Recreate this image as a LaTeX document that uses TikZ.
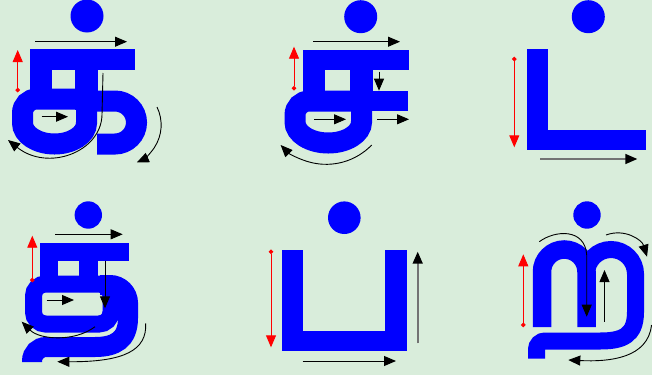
\documentclass[tikz,border=0pt]{standalone}
\usepackage{xcolor}
\usepackage{tikz}
\usetikzlibrary{arrows.meta}

\definecolor{paper}{RGB}{217,237,219}
\definecolor{ink}{RGB}{0,0,255}

\tikzset{
  glyphpen/.style={draw=ink,line width=#1},
  glyphpen/.default=21pt,
  strokeorder/.style={draw=black,line width=0.9pt,-{Triangle[length=12pt,width=10pt]}},
  fadedorder/.style={draw=black!55,line width=1.6pt,-{Triangle[length=12pt,width=10pt,black]}},
  startorder/.style={draw=red,line width=0.9pt,{Circle[length=4.5pt]}-{Triangle[length=12pt,width=10pt]}}
}

\begin{document}
\begin{tikzpicture}[x=1pt,y=-1pt]
\fill[paper] (0,0) rectangle (652,375);
\useasboundingbox (0,0) rectangle (652,375);

% ka with pulli
\fill[ink] (87,16) circle[radius=16.5];
\fill[ink] (30,49) rectangle (135,70);
\fill[ink] (30,49) rectangle (52,100);
\fill[ink] (75,49) rectangle (98,110);
\draw[glyphpen] (86.5,99) -- (36.5,99) arc[start angle=-90,end angle=-180,radius=14] -- (22.5,123)
  arc[start angle=180,end angle=0,x radius=32,y radius=21] -- cycle;
\draw[glyphpen] (97,101) -- (115,101) arc[start angle=-90,end angle=90,radius=21.5] -- (97,144);

\draw[startorder] (17.7,92.3) -- (17.7,50);
\draw[strokeorder] (35,41.7) -- (127,41.7);
\draw[strokeorder] (41.7,116.7) -- (68,116.7);
\draw[strokeorder] (103,73) -- (102,115) .. controls (101,152) and (48,172) .. (8,140);
\draw[strokeorder] (157,107) arc[start angle=-26,end angle=66,radius=41];

% ca with pulli
\fill[ink] (360.7,16.7) circle[radius=16.5];
\fill[ink] (303,50) rectangle (409,70);
\fill[ink] (303,50) rectangle (325,101);
\fill[ink] (350,50) rectangle (373,111);
\fill[ink] (360,91) rectangle (408,111);
\draw[glyphpen] (361.5,101) -- (309,101) arc[start angle=-90,end angle=-180,radius=14] -- (295,122)
  arc[start angle=180,end angle=0,x radius=33.25,y radius=21] -- cycle;

\draw[startorder] (294,90.5) -- (294,46.7);
\draw[strokeorder] (313.3,41.7) -- (400,41.7);
\draw[strokeorder] (379,71.7) -- (379,90.7);
\draw[strokeorder] (314.3,119.3) -- (346,119.3);
\draw[strokeorder] (377.3,119.3) -- (409,119.3);
\draw[strokeorder] (371.7,145) arc[start angle=44,end angle=136,radius=63.3];

% tta with pulli
\fill[ink] (588.3,16.7) circle[radius=16.5];
\fill[ink] (526.7,49.3) rectangle (548.3,150);
\fill[ink] (526.7,130) rectangle (646,150);

\draw[startorder] (514.3,56.8) -- (514.3,147.3);
\draw[fadedorder] (540,159) -- (637.3,159);

% ta with pulli
\fill[ink] (88.3,215) circle[radius=13.7];
\fill[ink] (40,243) rectangle (129,261);
\fill[ink] (40,243) rectangle (58,288);
\fill[ink] (79,243) rectangle (98,288);
\draw[glyphpen=17pt,rounded corners=12pt] (33.5,284) rectangle (111,324);
\draw[glyphpen=20pt] (100,285) -- (110,285) arc[start angle=-90,end angle=0,radius=18] -- (128,318)
  .. controls (128,340) and (115,347) .. (95,347) -- (46,347)
  arc[start angle=-90,end angle=-180,radius=14] -- (32,362);

\draw[startorder] (32.3,282.3) -- (32.3,235.7);
\draw[strokeorder] (55,234.3) -- (122.7,234.3);
\draw[strokeorder] (105,260.7) -- (105,308.3);
\draw[strokeorder] (46.7,300) -- (74,300);
\draw[strokeorder] (95,326.7) .. controls (75,342) and (40,340) .. (21.7,321.7);
\draw[strokeorder] (145.7,323.3) .. controls (147,350) and (125,362) .. (57.3,361.7);

% pa with pulli
\fill[ink] (344.3,217.7) circle[radius=16.3];
\fill[ink] (282.3,250) rectangle (303.3,350.7);
\fill[ink] (385,250) rectangle (406.7,350.7);
\fill[ink] (282.3,330.7) rectangle (406.7,350.7);

\draw[startorder] (271,249.5) -- (271,347.3);
\draw[fadedorder] (417.7,343.3) -- (417.7,251.7);
\draw[strokeorder] (302.7,361) -- (396,361);

% rra with pulli
\fill[ink] (587,215) circle[radius=13.7];
\draw[glyphpen=18.5pt] (542,327) -- (542,271.75) arc[start angle=180,end angle=360,radius=22.25] -- (586.5,327);
\draw[glyphpen=17pt] (586.5,274) arc[start angle=180,end angle=360,radius=24.5] -- (635.5,312)
  .. controls (635.5,336) and (622,341) .. (600,341) -- (545,341)
  arc[start angle=-90,end angle=-180,radius=8.5] -- (536.5,358.5);

\draw[startorder] (523.3,327.2) -- (523.3,254.3);
\draw[strokeorder] (539.3,241.7) .. controls (555,230) and (585,228) .. (586.7,255) -- (586.7,316.7);
\draw[strokeorder] (604.5,321.7) -- (604.5,270);
\draw[strokeorder] (606,235) .. controls (625,228) and (642,240) .. (647,256.7);
\draw[strokeorder] (651.5,325) .. controls (648,358) and (610,362) .. (568.3,360);
\end{tikzpicture}
\end{document}
